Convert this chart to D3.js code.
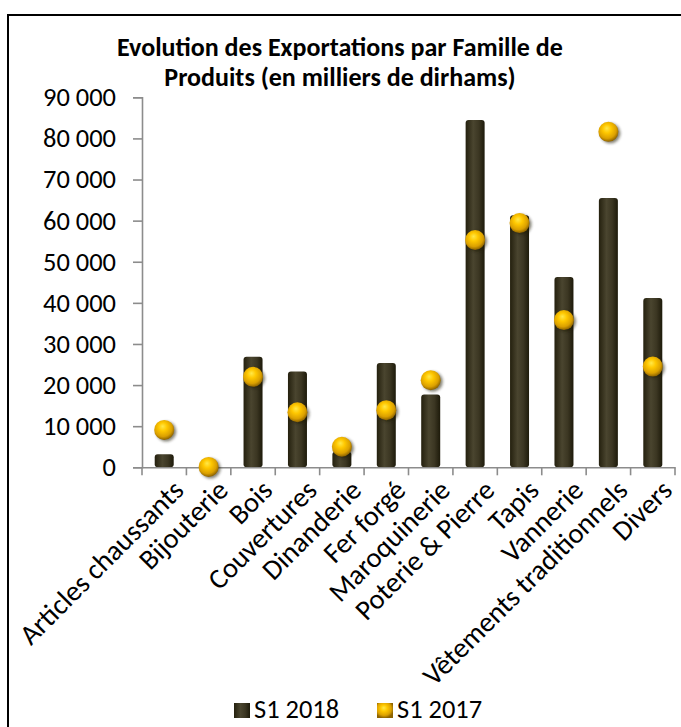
<!DOCTYPE html>
<html>
<head>
<meta charset="utf-8">
<script src="https://cdn.jsdelivr.net/npm/d3@7"></script>
<style>
  body { margin: 0; background: #fff; }
</style>
</head>
<body>
<div id="chart"></div>
<script>
// Données (milliers de dirhams)
const categories = ["Articles chaussants", "Bijouterie", "Bois", "Couvertures", "Dinanderie",
    "Fer forgé", "Maroquinerie", "Poterie & Pierre", "Tapis", "Vannerie",
    "Vêtements traditionnels", "Divers"];
const s2018 = [3200, 300, 26900, 23300, 3800, 25400, 17700, 84500, 61300, 46300, 65500, 41200];
const s2017 = [9100, 100, 22000, 13400, 5000, 13900, 21200, 55300, 59400, 35800, 81600, 24500];
const yTicks = [0, 10000, 20000, 30000, 40000, 50000, 60000, 70000, 80000, 90000];
const seriesNames = ["S1 2018", "S1 2017"];
const titleLines = ["Evolution des Exportations par Famille de", "Produits (en milliers de dirhams)"];

const W = 681, H = 727;
const FONT = "Carlito, Lato, sans-serif";
const plot = {left: 142, right: 675, top: 97.3, bottom: 467.3};

const svg = d3.select("#chart").append("svg")
    .attr("width", W)
    .attr("height", H);

// taille de police ajustée pour retrouver la largeur du Calibri d'origine
function fitSize(str, weight, target) {
    const t = svg.append("text")
        .attr("font-family", FONT)
        .attr("font-size", 100)
        .attr("font-weight", weight)
        .text(str);
    const w = t.node().getComputedTextLength();
    t.remove();
    return 100 * target / w;
}
const labelSize = fitSize("90 000", "normal", 73);
const catSize = fitSize("Vêtements traditionnels", "normal", 276);
const titleSize = fitSize(titleLines[0], "bold", 446);

const defs = svg.append("defs");
// barre façon cylindre
const barGrad = defs.append("linearGradient").attr("id", "barGrad")
    .attr("x1", "0%").attr("x2", "100%").attr("y1", "0%").attr("y2", "0%");
barGrad.append("stop").attr("offset", "0%").attr("stop-color", "#24200e");
barGrad.append("stop").attr("offset", "40%").attr("stop-color", "#4a452f");
barGrad.append("stop").attr("offset", "70%").attr("stop-color", "#3b3622");
barGrad.append("stop").attr("offset", "100%").attr("stop-color", "#1d1a0a");

// sphère dorée
const dotGrad = defs.append("radialGradient").attr("id", "dotGrad")
    .attr("cx", "45%").attr("cy", "40%").attr("r", "60%").attr("fx", "42%").attr("fy", "32%");
dotGrad.append("stop").attr("offset", "0%").attr("stop-color", "#ffe84a");
dotGrad.append("stop").attr("offset", "35%").attr("stop-color", "#ffc800");
dotGrad.append("stop").attr("offset", "75%").attr("stop-color", "#dba000");
dotGrad.append("stop").attr("offset", "100%").attr("stop-color", "#8d6300");

const blur = defs.append("filter").attr("id", "soft")
    .attr("x", "-50%").attr("y", "-50%").attr("width", "200%").attr("height", "200%");
blur.append("feGaussianBlur").attr("stdDeviation", 1.4);

// cadre
svg.append("rect")
    .attr("x", 8).attr("y", 15)
    .attr("width", 720).attr("height", 760)
    .attr("fill", "#fff")
    .attr("stroke", "#000")
    .attr("stroke-width", 2);

// titre
svg.append("g").selectAll("text")
    .data(titleLines)
    .join("text")
    .attr("x", 340)
    .attr("y", (d, i) => 56 + i * 30)
    .attr("text-anchor", "middle")
    .attr("font-family", FONT)
    .attr("font-weight", "bold")
    .attr("font-size", titleSize)
    .attr("fill", "#000")
    .text(d => d);

const x = d3.scaleBand()
    .domain(categories)
    .range([plot.left, plot.right])
    .paddingInner(0)
    .paddingOuter(0);
const y = d3.scaleLinear()
    .domain([0, 90000])
    .range([plot.bottom, plot.top]);

const fmt = v => d3.format(",")(v).replace(/,/g, " ");

// axe Y
const yAxis = svg.append("g")
    .attr("transform", `translate(${plot.left},0)`)
    .call(d3.axisLeft(y).tickValues(yTicks).tickFormat(fmt).tickSize(9).tickPadding(17));
yAxis.select(".domain").attr("stroke", "#8c8c8c").attr("stroke-width", 1.6);
yAxis.selectAll(".tick line").attr("stroke", "#8c8c8c").attr("stroke-width", 1.6);
yAxis.selectAll(".tick text")
    .attr("font-family", FONT)
    .attr("font-size", labelSize)
    .attr("fill", "#000");

// barres S1 2018
const bw = 19;
svg.append("g").selectAll("rect")
    .data(categories)
    .join("rect")
    .attr("x", d => x(d) + x.bandwidth() / 2 - bw / 2)
    .attr("y", (d, i) => y(s2018[i]))
    .attr("width", bw)
    .attr("height", (d, i) => y(0) - y(s2018[i]))
    .attr("rx", 3)
    .attr("fill", "url(#barGrad)");

// axe X
const xAxis = svg.append("g")
    .attr("transform", `translate(0,${plot.bottom})`)
    .call(d3.axisBottom(x).tickSize(0).tickFormat(""));
xAxis.select(".domain").attr("stroke", "#8c8c8c").attr("stroke-width", 1.6);
// graduations entre les catégories
xAxis.selectAll(".sep")
    .data(d3.range(categories.length + 1))
    .join("line")
    .attr("class", "sep")
    .attr("x1", i => plot.left + i * x.step())
    .attr("x2", i => plot.left + i * x.step())
    .attr("y1", 0).attr("y2", 8)
    .attr("stroke", "#8c8c8c")
    .attr("stroke-width", 1.6);

// étiquettes inclinées
svg.append("g").selectAll("text")
    .data(categories)
    .join("text")
    .attr("transform", d => `translate(${x(d) + x.bandwidth() / 2 + 14},485) rotate(-45)`)
    .attr("text-anchor", "end")
    .attr("dy", "0.35em")
    .attr("font-family", FONT)
    .attr("font-size", catSize)
    .attr("fill", "#000")
    .text(d => d);

// points S1 2017
const dots = svg.append("g");
dots.selectAll("circle.shadow")
    .data(categories)
    .join("circle")
    .attr("class", "shadow")
    .attr("cx", d => x(d) + x.bandwidth() / 2 + 2)
    .attr("cy", (d, i) => y(s2017[i]) + 1.5)
    .attr("r", 10)
    .attr("fill", "#1a1400")
    .attr("opacity", 0.55)
    .attr("filter", "url(#soft)");
dots.selectAll("circle.dot")
    .data(categories)
    .join("circle")
    .attr("class", "dot")
    .attr("cx", d => x(d) + x.bandwidth() / 2)
    .attr("cy", (d, i) => y(s2017[i]))
    .attr("r", 10)
    .attr("fill", "url(#dotGrad)");

// légende
const legend = svg.append("g");
const legX = [234, 377];
legend.selectAll("rect")
    .data(seriesNames)
    .join("rect")
    .attr("x", (d, i) => legX[i])
    .attr("y", 703)
    .attr("width", 16)
    .attr("height", 15)
    .attr("fill", (d, i) => i === 0 ? "url(#barGrad)" : "url(#dotGrad)");
legend.selectAll("text")
    .data(seriesNames)
    .join("text")
    .attr("x", (d, i) => legX[i] + 20)
    .attr("y", 718)
    .attr("font-family", FONT)
    .attr("font-size", labelSize)
    .attr("fill", "#000")
    .text(d => d);
</script>
</body>
</html>
